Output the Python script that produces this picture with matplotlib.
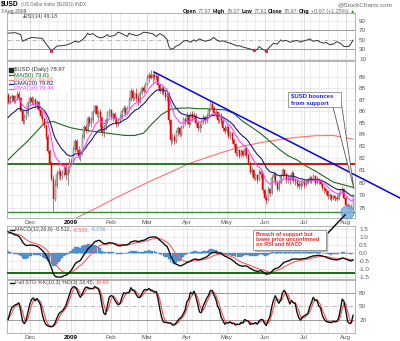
import matplotlib
matplotlib.use("Agg")
import matplotlib.pyplot as plt
from matplotlib.patches import Rectangle, Polygon
from matplotlib.lines import Line2D
from matplotlib.ticker import NullLocator, NullFormatter
import numpy as np
import pandas as pd

plt.rcParams['font.family'] = ['Liberation Sans', 'DejaVu Sans']

# trading days shown on the chart
dates = pd.bdate_range("2008-11-13", "2009-08-07")

# daily OHLC (one row per month)
opens = [87.4, 86.8, 87.1, 87.3, 86.9, 87.2, 87.5, 87.1, 86.0, 85.1, 85.5, 85.8,
         86.7, 87.1, 86.8, 87.0, 86.5, 86.8, 86.1, 85.6, 85.3, 84.7, 83.8, 82.6, 81.6, 80.3, 78.7, 79.8, 80.7, 80.9, 80.5, 80.8, 81.2, 80.6, 81.0,
         81.7, 81.8, 82.8, 83.4, 82.7, 82.2, 82.5, 83.8, 84.6, 84.4, 85.4, 85.0, 85.2, 85.9, 86.4, 85.7, 85.9, 85.4, 84.2, 84.6, 85.2, 85.8,
         86.1, 85.5, 85.7, 85.3, 84.9, 85.2, 85.5, 86.0, 86.3, 85.8, 86.3, 87.0, 87.8, 87.1, 87.5, 87.1, 86.8, 87.6, 88.0, 87.8,
         88.4, 88.9, 89.2, 88.9, 89.2, 89.0, 89.1, 88.3, 87.8, 88.0, 87.6, 87.2, 87.5, 85.2, 83.5, 83.8, 83.4, 84.2, 84.5, 84.0, 84.6, 85.3,
         85.1, 85.6, 84.9, 85.7, 85.4, 85.6, 85.0, 84.5, 84.7, 85.1, 85.5, 85.2, 85.6, 86.1, 86.6, 86.3, 85.8, 85.9, 85.2, 85.6, 85.1, 84.5,
         84.3, 84.6, 83.9, 84.1, 83.5, 83.2, 82.4, 82.7, 82.2, 82.6, 82.3, 82.8, 82.3, 81.6, 80.9, 81.0, 80.4, 80.6, 80.2, 80.9, 80.7,
         79.4, 78.8, 78.6, 79.5, 79.2, 80.4, 80.7, 80.0, 79.5, 80.0, 80.5, 81.0, 80.7, 80.2, 80.4, 80.2, 80.8, 80.2, 80.1, 79.9, 79.7, 79.9,
         80.1, 79.8, 80.0, 80.2, 80.4, 80.2, 80.5, 80.0, 80.3, 80.1, 79.9, 79.6, 79.5, 79.3, 78.9, 79.0, 78.7, 78.9, 78.8, 78.7, 79.1, 79.4, 79.5,
         78.8, 78.2, 78.1, 77.9, 77.97]
highs = [87.6, 87.3, 87.5, 87.4, 87.4, 87.8, 87.9, 87.2, 86.1, 85.7, 86.0, 86.9,
         87.3, 87.3, 87.2, 87.1, 87.0, 86.9, 86.3, 86.0, 85.4, 84.9, 84.0, 82.8, 81.8, 80.6, 80.2, 81.0, 81.3, 81.1, 81.0, 81.4, 81.5, 81.2, 82.0,
         82.0, 83.0, 83.6, 83.6, 83.0, 82.8, 84.0, 84.8, 84.9, 85.6, 85.6, 85.5, 86.1, 86.5, 86.5, 86.1, 86.2, 85.6, 84.8, 85.4, 86.0, 86.3,
         86.2, 85.9, 85.9, 85.6, 85.4, 85.7, 86.2, 86.5, 86.4, 86.4, 87.2, 88.0, 87.9, 87.7, 88.0, 87.4, 87.8, 88.2, 88.3, 88.6,
         89.2, 89.5, 89.6, 89.4, 89.5, 89.4, 89.2, 88.4, 88.2, 88.1, 87.8, 87.7, 87.7, 85.3, 84.1, 84.0, 84.4, 84.7, 84.6, 84.8, 85.5, 85.4,
         85.9, 85.7, 85.9, 86.0, 85.9, 85.8, 85.1, 85.0, 85.3, 85.7, 85.6, 85.8, 86.3, 86.9, 86.8, 86.4, 86.2, 86.0, 85.9, 85.8, 85.3, 84.8,
         84.9, 84.7, 84.3, 84.2, 83.7, 83.3, 82.9, 82.8, 82.8, 82.7, 83.0, 82.9, 82.4, 81.7, 81.3, 81.1, 80.8, 80.7, 81.1, 81.0, 80.8,
         79.5, 79.1, 79.7, 79.6, 80.6, 80.9, 80.8, 80.2, 80.2, 80.7, 81.2, 81.1, 80.8, 80.6, 80.5, 81.0, 80.9, 80.4, 80.3, 80.1, 80.1, 80.3,
         80.2, 80.2, 80.4, 80.6, 80.5, 80.7, 80.6, 80.5, 80.4, 80.3, 80.0, 79.7, 79.6, 79.4, 79.2, 79.1, 79.0, 79.0, 79.0, 79.2, 79.5, 79.7, 79.6,
         78.9, 78.4, 78.3, 78.3, 79.07]
lows = [86.6, 86.6, 86.9, 86.7, 86.7, 87.0, 86.9, 85.9, 84.9, 84.9, 85.3, 85.6,
        86.5, 86.6, 86.5, 86.3, 86.2, 85.9, 85.4, 85.0, 84.5, 83.6, 82.4, 81.4, 80.1, 77.7, 78.5, 79.6, 80.3, 80.2, 80.3, 80.5, 80.3, 79.8, 80.8,
        81.4, 81.6, 82.5, 82.5, 81.9, 81.8, 82.3, 83.6, 84.1, 84.2, 84.7, 84.6, 85.0, 85.7, 85.5, 85.2, 84.6, 83.9, 83.8, 84.4, 85.0, 85.5,
        85.3, 85.1, 85.0, 84.6, 84.7, 85.0, 85.3, 85.7, 85.6, 85.7, 86.2, 86.9, 86.9, 87.0, 86.9, 86.5, 86.7, 87.4, 87.6, 87.7,
        88.2, 88.6, 88.8, 88.5, 88.7, 88.7, 88.1, 87.6, 87.5, 87.4, 87.0, 86.9, 84.9, 83.1, 83.3, 83.2, 83.3, 83.9, 83.8, 83.9, 84.5, 84.8,
        84.9, 84.6, 84.8, 85.1, 85.2, 84.7, 84.3, 84.2, 84.5, 84.9, 84.9, 85.0, 85.5, 86.0, 86.1, 85.6, 85.5, 85.0, 85.0, 84.9, 84.3, 84.0,
        84.1, 83.7, 83.6, 83.3, 82.9, 82.2, 82.2, 82.0, 82.1, 82.1, 82.2, 82.0, 81.4, 80.7, 80.5, 80.2, 80.2, 80.0, 80.1, 80.4, 79.2,
        78.6, 78.3, 78.5, 78.9, 79.1, 80.2, 79.8, 79.3, 79.3, 79.9, 80.4, 80.5, 80.0, 80.0, 79.9, 80.1, 80.0, 79.8, 79.6, 79.5, 79.5, 79.7,
        79.6, 79.7, 79.9, 80.0, 80.0, 80.1, 79.8, 79.9, 79.9, 79.8, 79.4, 79.2, 79.1, 78.7, 78.6, 78.5, 78.6, 78.5, 78.5, 78.6, 79.0, 79.2, 78.7,
        78.0, 77.9, 77.7, 77.7, 77.81]
closes = [86.8, 87.1, 87.3, 86.9, 87.2, 87.5, 87.1, 86.0, 85.1, 85.5, 85.8, 86.7,
          87.1, 86.8, 87.0, 86.5, 86.8, 86.1, 85.6, 85.3, 84.7, 83.8, 82.6, 81.6, 80.3, 78.7, 79.8, 80.7, 80.9, 80.5, 80.8, 81.2, 80.6, 81.0, 81.7,
          81.8, 82.8, 83.4, 82.7, 82.2, 82.5, 83.8, 84.6, 84.4, 85.4, 85.0, 85.2, 85.9, 86.4, 85.7, 85.9, 85.4, 84.2, 84.6, 85.2, 85.8, 86.1,
          85.5, 85.7, 85.3, 84.9, 85.2, 85.5, 86.0, 86.3, 85.8, 86.3, 87.0, 87.8, 87.1, 87.5, 87.1, 86.8, 87.6, 88.0, 87.8, 88.4,
          88.9, 89.2, 88.9, 89.2, 89.0, 89.1, 88.3, 87.8, 88.0, 87.6, 87.2, 87.5, 85.2, 83.5, 83.8, 83.4, 84.2, 84.5, 84.0, 84.6, 85.3, 85.1,
          85.6, 84.9, 85.7, 85.4, 85.6, 85.0, 84.5, 84.7, 85.1, 85.5, 85.2, 85.6, 86.1, 86.6, 86.3, 85.8, 85.9, 85.2, 85.6, 85.1, 84.5, 84.3,
          84.6, 83.9, 84.1, 83.5, 83.2, 82.4, 82.7, 82.2, 82.6, 82.3, 82.8, 82.3, 81.6, 80.9, 81.0, 80.4, 80.6, 80.2, 80.9, 80.7, 79.4,
          78.8, 78.6, 79.5, 79.2, 80.4, 80.7, 80.0, 79.5, 80.0, 80.5, 81.0, 80.7, 80.2, 80.4, 80.2, 80.8, 80.2, 80.1, 79.9, 79.7, 79.9, 80.1,
          79.8, 80.0, 80.2, 80.4, 80.2, 80.5, 80.0, 80.3, 80.1, 79.9, 79.6, 79.5, 79.3, 78.9, 79.0, 78.7, 78.9, 78.8, 78.7, 79.1, 79.4, 79.5, 78.8,
          78.2, 78.1, 77.9, 78.0, 78.97]

# moving averages (trading-day index, value)
ma50_days = [0, 5, 10, 15, 20, 25, 30, 35, 40, 45, 50, 55, 60, 65, 70, 75, 80, 85, 90, 95,
             100, 105, 110, 115, 120, 125, 130, 135, 140, 145, 150, 155, 160, 165, 170, 175, 180, 185, 190, 191]
ma50_vals = [81.85, 82.6, 83.3, 84.1, 84.95, 85.1, 84.8, 84.55, 84.4, 84.3, 84.2, 84.1, 84.0, 83.9, 83.9, 84.1, 84.95, 85.7, 86.15, 86.25,
             86.27, 86.2, 86.2, 86.15, 86.1, 85.8, 85.1, 84.6, 84.05, 83.4, 82.75, 82.2, 81.85, 81.35, 80.95, 80.5, 80.05, 79.85, 79.65, 79.61]
ma200_days = [36, 40, 50, 60, 70, 80, 90, 100, 110, 120, 130, 140, 150, 160, 170, 180, 190, 191]
ma200_vals = [77.05, 77.35, 78.05, 78.8, 79.5, 80.2, 80.85, 81.55, 82.05, 82.55, 83.0, 83.3, 83.55, 83.75, 83.88, 83.9, 83.62, 83.58]

# RSI(14) (trading-day index, value)
rsi_days = [0, 4, 7, 8, 10, 13, 16, 19, 20, 22, 24, 25, 27, 30, 32, 35, 37, 39, 41, 43, 44, 45, 47, 49, 51, 53, 55,
            56, 59, 61, 63, 66, 67, 68, 71, 73, 75, 77, 80, 82, 84, 86, 88, 89, 90, 92, 93, 95, 97, 99, 101, 103,
            104, 106, 109, 112, 114, 115, 117, 119, 121, 123, 125, 127, 128, 130, 132, 134, 136, 138, 139, 141, 143,
            145, 147, 149, 151, 152, 154, 156, 158, 160, 162, 163, 165, 167, 169, 171, 173, 175, 176, 178, 180,
            182, 184, 186, 188, 189, 191]
rsi_vals = [64, 65, 61, 47, 51, 55, 54, 53, 47, 37, 27, 30, 37, 38, 39, 43, 47, 45, 50, 57, 64, 61, 63, 57, 54, 56, 61,
            57, 59, 66, 63, 57, 64, 62, 59, 61, 66, 65, 63, 57, 63, 59, 51, 37, 30, 33, 37, 40, 47, 49, 45, 50,
            47, 52, 47, 50, 55, 51, 47, 48, 45, 43, 40, 37, 38, 35, 33, 31, 28, 30, 36, 30, 27,
            36, 43, 41, 50, 47, 49, 45, 47, 49, 45, 47, 49, 52, 47, 49, 45, 43, 45, 40, 41,
            46, 43, 36, 36, 37, 49.18]

# indicator levels at the left edge of the chart
ema10_start, ema20_start = 86.6, 85.3
ema12_start, ema26_start, signal_start = 86.4, 85.0, 1.2

support_level = 81.52
floor_level = 77.68
macd_floor = -1.25
trend_days = [80.8, 217]
trend_prices = [89.46, 78.77]

W, H = 400, 341
fig = plt.figure(figsize=(W / 100, H / 100), dpi=100)


def rect(top, bottom):
    return [7 / W, 1 - bottom / H, 348 / W, (bottom - top) / H]


ax_r = fig.add_axes(rect(13, 60))
ax_p = fig.add_axes(rect(61, 218))
ax_m = fig.add_axes(rect(226, 279))
ax_s = fig.add_axes(rect(280, 333))

n = len(closes)
x = np.arange(n)
o = np.array(opens)
hi = np.array(highs)
lo = np.array(lows)
cl = np.array(closes)
c = pd.Series(closes)


def ema(s, span, start):
    s2 = pd.concat([pd.Series([start]), pd.Series(s)], ignore_index=True)
    return s2.ewm(span=span, adjust=False).mean().iloc[1:].to_numpy()


ema10 = ema(c, 10, ema10_start)
ema20 = ema(c, 20, ema20_start)
macd = ema(c, 12, ema12_start) - ema(c, 26, ema26_start)
signal = ema(macd, 9, signal_start)
hist = macd - signal

hh = pd.Series(highs).rolling(10, min_periods=1).max()
ll = pd.Series(lows).rolling(10, min_periods=1).min()
fast = 100 * (c - ll) / (hh - ll)
sto_k = fast.rolling(3, min_periods=1).mean()
sto_d = sto_k.rolling(3, min_periods=1).mean()

month_idx = [i for i in range(1, n) if dates[i].month != dates[i - 1].month]
month_lab = ['2009' if dates[i].month == 1 else dates[i].strftime('%b') for i in month_idx]
monday_idx = np.where(dates.dayofweek == 0)[0]

for ax in [ax_r, ax_p, ax_m, ax_s]:
    ax.set_xlim(-0.6, 192.1)
    for sp in ax.spines.values():
        sp.set_color('#999999')
        sp.set_linewidth(0.5)
    ax.yaxis.tick_right()
    ax.tick_params(length=0, labelsize=4.5, labelcolor='#555555', pad=3)
    ax.set_xticks(month_idx)
    for m in monday_idx:
        ax.axvline(m, color='#e6e6e6', lw=0.5, zorder=0)
    for m in month_idx:
        ax.axvline(m, color='#d4d4d4', lw=0.5, zorder=0)

for ax in [ax_r, ax_m]:
    ax.set_xticklabels([])
for ax in [ax_p, ax_s]:
    ax.set_xticklabels(month_lab)
    ax.tick_params(axis='x', pad=1.5)
    for lab in ax.get_xticklabels():
        if lab.get_text() == '2009':
            lab.set_fontweight('bold')
            lab.set_color('black')

# RSI panel
ax_r.set_ylim(8, 106)
ax_r.set_yticks([10, 30, 50, 70, 90])
for v in [10, 90]:
    ax_r.axhline(v, color='#e4e4e4', lw=0.5, zorder=0)
for v in [30, 70]:
    ax_r.axhline(v, color='#9a9a9a', lw=0.7, zorder=1)
ax_r.axhline(50, color='#aaaaaa', lw=0.6, ls=(0, (5, 2, 1, 2)), zorder=1)
ax_r.plot(rsi_days, rsi_vals, color='#333333', lw=0.7, zorder=3)
low_days = [d for d, v in zip(rsi_days, rsi_vals) if v < 30]
low_vals = [v for v in rsi_vals if v < 30]
ax_r.plot(low_days, low_vals, 'o', ms=1.4, color='#dd2266', zorder=4)

# price panel
ax_p.set_yscale('log')
ax_p.set_ylim(77.19, 90.46)
ax_p.set_yticks(range(78, 90))
ax_p.set_yticklabels([str(v) for v in range(78, 90)])
ax_p.yaxis.set_minor_locator(NullLocator())
ax_p.yaxis.set_minor_formatter(NullFormatter())
for v in range(78, 90):
    ax_p.axhline(v, color='#e4e4e4', lw=0.5, zorder=0)

prev = np.r_[o[0], cl[:-1]]
down = cl < prev
cols = np.where(down, '#ee0000', '#555555')
face = np.where(cl < o, cols, 'white')
ax_p.vlines(x, lo, hi, colors=cols, lw=0.45, zorder=3)
ax_p.bar(x, np.maximum(np.abs(cl - o), 0.04), bottom=np.minimum(o, cl),
         width=0.55, color=list(face), edgecolor=list(cols), lw=0.35, zorder=4)

ax_p.plot(ma200_days, ma200_vals, color='#ff7070', lw=0.8, zorder=2)
ax_p.plot(ma50_days, ma50_vals, color='#1a6b1a', lw=0.8, zorder=2)
ax_p.plot(x, ema20, color='#1a1a80', lw=0.8, zorder=5)
ax_p.plot(x, ema10, color='#ff44ff', lw=0.8, zorder=5)

ax_p.axhline(support_level, color='#006400', lw=1.2, zorder=2)
ax_p.hlines(support_level, 23, 34.5, color='#ff0000', lw=1.2, zorder=2)
ax_p.hlines(support_level, 136, 192.1, color='#ff0000', lw=1.2, zorder=2)
ax_p.axhline(floor_level, color='#3a8a3a', lw=1.0, zorder=2)
ax_p.plot(trend_days, trend_prices, color='#0000ff', lw=1.1, clip_on=False, zorder=6)
ax_p.plot([187.7], [floor_level], 'o', ms=9.5, mfc='#7fb0e0', mec='#5a90cc', mew=0.6,
          alpha=0.85, clip_on=False, zorder=7)

# MACD panel
ax_m.set_ylim(-1.645, 1.689)
mt = [1.5, 1.0, 0.5, 0.0, -0.5, -1.0, -1.5]
ax_m.set_yticks(mt)
ax_m.set_yticklabels([f'{v:.1f}' for v in mt])
for v in mt:
    ax_m.axhline(v, color='#e4e4e4', lw=0.5, zorder=0)
ax_m.axhline(0, color='#aaaaaa', lw=0.6, ls=(0, (5, 2, 1, 2)), zorder=1)
ax_m.bar(x, hist, width=0.95, color='#5b9bd5', edgecolor='#2f6fae', lw=0.2, zorder=2)
ax_m.plot(x, signal, color='#ff5a5a', lw=0.8, zorder=3)
ax_m.plot(x, macd, color='#111111', lw=1.0, zorder=4)
ax_m.axhline(macd_floor, color='#006400', lw=1.3, zorder=3)

# stochastics panel
ax_s.set_ylim(-10.5, 109.5)
ax_s.set_yticks([20, 50, 80])
for v in [20, 80]:
    ax_s.axhline(v, color='#9a9a9a', lw=0.7, zorder=1)
ax_s.axhline(50, color='#aaaaaa', lw=0.6, ls=(0, (5, 2, 1, 2)), zorder=1)
ax_s.plot(x, sto_d, color='#ff4a4a', lw=0.8, zorder=3)
ax_s.plot(x, sto_k, color='#111111', lw=1.0, zorder=4)

# ---- texts in pixel positions ----
renderer = fig.canvas.get_renderer()


def put(px, py, text, **kw):
    kw.setdefault('va', 'center')
    return fig.text(px / W, 1 - py / H, text, **kw)


def chain(px, py, parts, size, gap=1.5):
    for text, color, weight, fs in parts:
        t = put(px, py, text, fontsize=fs or size, color=color, weight=weight)
        px = t.get_window_extent(renderer).x1 + gap
    return px


def seg(px0, px1, py, color, lw=0.9):
    fig.add_artist(Line2D([px0 / W, px1 / W], [1 - py / H, 1 - py / H],
                          transform=fig.transFigure, color=color, lw=lw))


chain(1, 4.5, [(r'\$USD', 'black', 'bold', 4.8),
               (r'(US Dollar Index (\$USD)) INDX', '#666666', 'normal', 3.3)], 3.3, gap=2)
put(392, 4.5, '@StockCharts.com', fontsize=4.6, color='#666666', ha='right')
put(1, 11.5, '7-Aug-2009', fontsize=3.6, color='#444444')
chain(183, 11.5, [('Open', 'black', 'bold', None), ('77.97', '#666666', 'normal', None),
                  ('High', 'black', 'bold', None), ('79.07', '#666666', 'normal', None),
                  ('Low', 'black', 'bold', None), ('77.81', '#666666', 'normal', None),
                  ('Close', 'black', 'bold', None), ('78.97', '#666666', 'normal', None),
                  ('Chg', 'black', 'bold', None), ('+0.97 (+1.25%)', '#666666', 'normal', None),
                  ('\u25b2', '#2a9d2a', 'normal', None)], 3.85, gap=1.3)

put(21, 16.7, '\u25b2', fontsize=3.3, color='#2a9d2a')
put(24.5, 16.7, 'RSI(14) 49.18', fontsize=3.8, color='#444444')

# price legend
fig.add_artist(Rectangle((8 / W, 1 - 91 / H), 62 / W, 26 / H, transform=fig.transFigure,
                         facecolor='white', edgecolor='none', zorder=1))
fig.add_artist(Line2D([10.5 / W], [1 - 70 / H], transform=fig.transFigure, marker='s', ms=2.2,
                      color='#222222', lw=0))
put(14, 70, r'\$USD (Daily) 78.97', fontsize=4.2, color='#333333')
legend_rows = [(75, '#1a6b1a', 'MA(50) 79.61'), (79.5, '#ff7070', 'MA(200) 83.58'),
               (84, '#1a1a80', 'EMA(20) 79.82'), (88.5, '#ff44ff', 'EMA(10) 79.44')]
for py, col, txt in legend_rows:
    seg(9, 13, py, col)
    put(14, py, txt, fontsize=4.2, color=col)

# MACD and STO labels
seg(10, 13.5, 229.5, '#111111', lw=1.0)
chain(15, 229.5, [('MACD(12,26,9) -0.512,', '#444444', 'normal', None), ('-0.506,', '#ff5a5a', 'normal', None),
                  ('-0.006', '#6f9fd0', 'normal', None)], 3.9)
seg(10, 13.5, 282.5, '#111111', lw=1.0)
chain(15, 282.5, [('Full STO %K(10,3) %D(3) 33.45,', '#444444', 'normal', None),
                  ('18.69', '#ff4a4a', 'normal', None)], 3.9)

# callout 1
fig.add_artist(Polygon([(333 / W, 1 - 107 / H), (341 / W, 1 - 101 / H), (354 / W, 1 - 189 / H)],
                       closed=True, transform=fig.transFigure, facecolor='white',
                       edgecolor='#555555', lw=0.6, zorder=2))
fig.add_artist(Rectangle((288 / W, 1 - 107 / H), 53 / W, 15 / H, transform=fig.transFigure,
                         facecolor='white', edgecolor='#777777', lw=0.5, zorder=3))
put(291, 95.7, r'\$USD bounces', fontsize=4.3, color='#2222ff', weight='bold', zorder=4)
put(291, 103.3, 'from support', fontsize=4.3, color='#2222ff', weight='bold', zorder=4)

# callout 2
fig.add_artist(Line2D([326 / W, 345 / W], [1 - 235 / H, 1 - 215 / H], transform=fig.transFigure,
                      color='#111111', lw=1.1, zorder=2))
fig.add_artist(Rectangle((255 / W, 1 - 252 / H), 73 / W, 20 / H, transform=fig.transFigure,
                         facecolor='#bbbbbb', edgecolor='none', zorder=2))
fig.add_artist(Rectangle((253 / W, 1 - 250 / H), 73 / W, 20 / H, transform=fig.transFigure,
                         facecolor='white', edgecolor='#777777', lw=0.5, zorder=3))
for py, txt in [(234.5, 'Breach of support but'), (239.7, 'lower price unconfirmed'), (244.9, 'on RSI and MACD')]:
    put(256, py, txt, fontsize=3.9, color='#ff2020', weight='bold', zorder=4)

fig.savefig('out.png', dpi=100, facecolor='white')
